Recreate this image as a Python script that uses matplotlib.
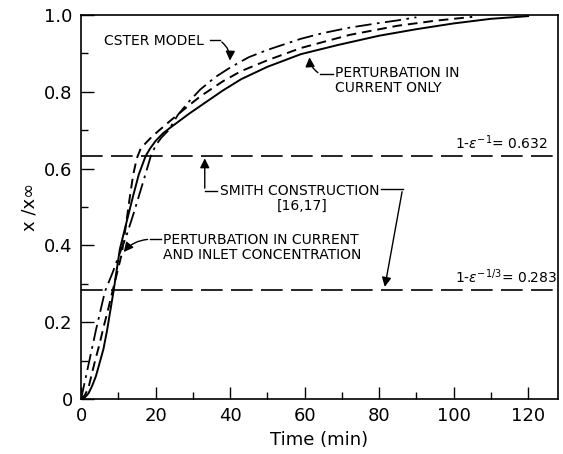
import numpy as np
import matplotlib
matplotlib.use("Agg")
import matplotlib.pyplot as plt

# values (time in min, x/x_inf)
time_current_only = [0, 1, 2, 3, 4, 5, 6, 7, 8.7, 10.4, 12.7, 14, 15.5, 17.3, 18.5, 20,
                     22, 24, 29, 32, 38, 43, 50, 59, 69, 80, 90, 100, 110, 120]
x_current_only = [0, 0.004, 0.015, 0.035, 0.06, 0.095, 0.13, 0.18, 0.28, 0.39, 0.48,
                  0.53, 0.585, 0.632, 0.652, 0.672, 0.692, 0.707, 0.743, 0.763, 0.803,
                  0.833, 0.865, 0.898, 0.922, 0.946, 0.963, 0.978, 0.99, 0.997]

time_current_inlet = [0, 1, 2, 3.5, 5, 6, 7.3, 8.5, 9.7, 10.9, 12, 13, 14, 15, 16, 17.5,
                      19, 21, 24, 29, 32, 38, 43, 50, 59, 72, 85, 95, 105]
x_current_inlet = [0, 0.01, 0.03, 0.09, 0.145, 0.186, 0.235, 0.283, 0.33, 0.377, 0.45,
                   0.52, 0.585, 0.628, 0.652, 0.668, 0.683, 0.70, 0.725, 0.765, 0.788,
                   0.827, 0.854, 0.882, 0.914, 0.948, 0.972, 0.985, 0.995]

time_cster = [0, 2, 4, 6.4, 8.5, 10, 12, 14, 16.5, 18.7, 20, 21.5, 23.5, 26, 29, 32, 36,
              40, 45, 50, 59, 65, 72, 80, 85, 90]
x_cster = [0, 0.09, 0.18, 0.28, 0.33, 0.37, 0.42, 0.48, 0.56, 0.632, 0.66, 0.68, 0.70,
           0.74, 0.775, 0.806, 0.838, 0.863, 0.89, 0.909, 0.938, 0.953, 0.967, 0.979,
           0.986, 0.994]

smith_levels = [0.632, 0.283]
smith_labels = [r"1-$\epsilon^{-1}$= 0.632", r"1-$\epsilon^{-1/3}$= 0.283"]

x_ticks = [0, 20, 40, 60, 80, 100, 120]
y_ticks = [0, 0.2, 0.4, 0.6, 0.8, 1.0]
y_tick_labels = ["0", "0.2", "0.4", "0.6", "0.8", "1.0"]


def main():
    plt.rcParams['font.family'] = ['DejaVu Sans']
    fig = plt.figure(figsize=(5.63, 4.54), dpi=100)
    ax = fig.add_axes([0.144, 0.121, 0.847, 0.846])

    ax.plot(time_current_only, x_current_only, color='black', lw=1.4)
    ax.plot(time_current_inlet, x_current_inlet, color='black', lw=1.4, dashes=(5, 3))
    ax.plot(time_cster, x_cster, color='black', lw=1.3, dashes=(9, 3, 1.5, 3))

    for lvl in smith_levels:
        ax.axhline(lvl, color='black', lw=1.2, dashes=(13, 5))

    ax.text(100.5, 0.643, smith_labels[0], fontsize=10, ha='left', va='bottom')
    ax.text(100.5, 0.294, smith_labels[1], fontsize=10, ha='left', va='bottom')

    arrow = dict(arrowstyle='-|>', color='black', lw=1.0, mutation_scale=14)

    # CSTER model
    ax.text(19.6, 0.932, "CSTER MODEL", fontsize=10, ha='center', va='center')
    ax.plot([34.5, 37.2], [0.934, 0.934], color='black', lw=1.0)
    ax.annotate('', xy=(39.9, 0.874), xytext=(37.2, 0.934),
                arrowprops=dict(arrow, connectionstyle="arc3,rad=-0.3"))

    # perturbation in current only
    ax.text(68.2, 0.829, "PERTURBATION IN\nCURRENT ONLY", fontsize=10,
            ha='left', va='center', linespacing=1.1)
    ax.plot([64.2, 67.6], [0.846, 0.846], color='black', lw=1.0)
    ax.annotate('', xy=(61.3, 0.897), xytext=(64.2, 0.846),
                arrowprops=dict(arrow, connectionstyle="arc3,rad=-0.3"))

    # Smith construction
    ax.text(37.2, 0.542, "SMITH CONSTRUCTION", fontsize=10, ha='left', va='center')
    ax.text(52.5, 0.503, "[16,17]", fontsize=10, ha='left', va='center')
    ax.plot([33.2, 36.4], [0.542, 0.542], color='black', lw=1.0)
    ax.annotate('', xy=(33.2, 0.634), xytext=(33.2, 0.542), arrowprops=arrow)
    ax.plot([80.5, 86.3], [0.547, 0.547], color='black', lw=1.0)
    ax.annotate('', xy=(81.4, 0.285), xytext=(86.3, 0.547), arrowprops=arrow)

    # perturbation in current and inlet concentration
    ax.text(22.0, 0.395, "PERTURBATION IN CURRENT\nAND INLET CONCENTRATION",
            fontsize=10, ha='left', va='center', linespacing=1.1)
    ax.plot([18.6, 21.5], [0.416, 0.416], color='black', lw=1.0)
    ax.annotate('', xy=(11.0, 0.377), xytext=(18.6, 0.416),
                arrowprops=dict(arrow, connectionstyle="arc3,rad=0.25"))

    ax.set_xlim(0, 128)
    ax.set_ylim(0, 1.0)
    ax.set_xticks(x_ticks)
    ax.set_xticks(np.arange(10, 128, 20), minor=True)
    ax.set_yticks(y_ticks)
    ax.set_yticklabels(y_tick_labels)
    ax.set_yticks(np.arange(0.1, 1.0, 0.2), minor=True)
    ax.tick_params(direction='in', length=9, width=1.0, labelsize=13, pad=6)
    ax.tick_params(which='minor', direction='in', length=5, width=1.0)
    for s in ax.spines.values():
        s.set_linewidth(1.2)

    ax.set_xlabel("Time (min)", fontsize=13)
    ax.set_ylabel("x /x\u221e", fontsize=13)

    plt.savefig("out.png", dpi=100)


if __name__ == "__main__":
    main()
